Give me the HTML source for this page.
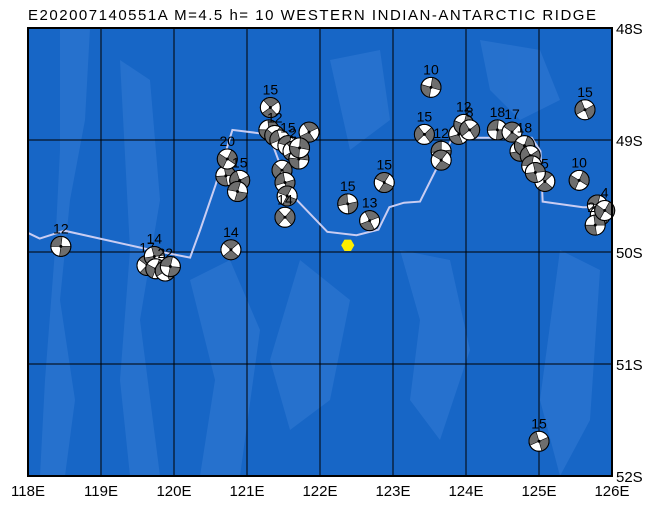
<!DOCTYPE html>
<html><head><meta charset="utf-8"><style>
html,body{margin:0;padding:0;width:646px;height:505px;overflow:hidden;background:#fff;}
svg{display:block;font-family:"Liberation Sans",sans-serif;}
</style></head><body>
<svg id="map" width="646" height="505" viewBox="0 0 646 505">
<text x="28" y="20" font-size="15" fill="#000" textLength="568">E202007140551A M=4.5 h= 10 WESTERN INDIAN-ANTARCTIC RIDGE</text>
<g id="ocean">
<rect x="28" y="28" width="584" height="448" fill="#1766c6"/>
<g fill="#2a74cf" opacity="0.8">
<path d="M60 28 L90 28 L85 120 L70 200 L60 300 L75 400 L65 476 L40 476 L45 380 L55 250 L60 150Z"/>
<path d="M120 60 L150 80 L160 200 L140 320 L160 476 L130 476 L120 380 L130 250Z"/>
<path d="M190 280 L230 260 L260 330 L240 476 L200 476 L215 380Z"/>
<path d="M300 260 L350 300 L330 400 L290 430 L270 360Z"/>
<path d="M400 250 L450 260 L470 350 L440 440 L410 400 L420 320Z"/>
<path d="M480 40 L540 50 L560 100 L520 120 L490 90Z"/>
<path d="M560 250 L600 270 L590 420 L560 476 L540 400Z"/>
<path d="M330 60 L380 50 L390 120 L350 150Z"/>
</g>
</g>
<g id="grid" stroke="#000" stroke-width="1"></g>
<polyline id="ridge" fill="none" stroke="#c9cdf2" stroke-width="2"/>
<g id="events"></g>
<rect x="28" y="28" width="584" height="448" fill="none" stroke="#000" stroke-width="2"/>
<g id="labels" font-size="15" fill="#000"></g>
</svg>
<script>
const lonTicks=[118,119,120,121,122,123,124,125,126];
const latTicks=[48,49,50,51,52];
const ridgeLon=[118,118.16,118.5,119.67,120.22,120.36,120.57,120.8,121.3,121.6,122.1,122.5,122.8,122.95,123.15,123.37,123.6,123.8,124.05,124.9,125.02,125.05,125.6,126];
const ridgeLat=[49.83,49.88,49.81,49.98,50.05,49.8,49.4,48.91,48.95,49.48,49.82,49.85,49.8,49.6,49.56,49.55,49.25,49.0,48.98,48.98,49.1,49.55,49.6,49.6];
const evLon=[118.45,119.63,119.73,119.75,119.88,119.95,120.78,120.71,120.73,120.9,120.87,121.32,121.3,121.38,121.45,121.56,121.63,121.71,121.48,121.52,121.55,121.85,121.72,121.52,122.38,122.88,122.68,123.52,123.43,123.66,123.66,123.9,123.97,124.05,124.43,124.63,124.74,124.8,124.88,124.9,125.08,124.95,125.55,125.63,125.8,125.84,125.77,125.9,125.0];
const evLat=[49.95,50.12,50.04,50.15,50.17,50.13,49.98,49.32,49.17,49.36,49.46,48.71,48.91,48.96,49.0,49.05,49.1,49.17,49.27,49.38,49.5,48.93,49.07,49.69,49.57,49.38,49.72,48.53,48.95,49.1,49.18,48.95,48.86,48.91,48.91,48.93,49.1,49.05,49.14,49.23,49.37,49.29,49.36,48.73,49.58,49.67,49.76,49.63,51.69];
const evLabel=["12","17","14","","22","","14","","20","15","","15","","12","","15","2","15","","","","","","14","15","15","13","10","15","12","","","12","8","18","17","","18","","","5","","10","15","","","22","4","15"];
const L=28,R=612,T=28,B=476;
const x=lon=>L+(lon-118)*(R-L)/8;
const y=lat=>T+(lat-48)*(B-T)/4;
const ns="http://www.w3.org/2000/svg";
function mk(t,a,p){const e=document.createElementNS(ns,t);for(const k in a)e.setAttribute(k,a[k]);p.appendChild(e);return e;}
const grid=document.getElementById('grid'),labels=document.getElementById('labels');
lonTicks.forEach(v=>{
 const l=mk('line',{x1:x(v),x2:x(v),y1:T,y2:B},grid);
 
 
 const t=mk('text',{x:x(v),y:496,'text-anchor':'middle'},labels);t.textContent=v+'E';
 
 
});
latTicks.forEach(v=>{
 const l=mk('line',{x1:L,x2:R,y1:y(v),y2:y(v)},grid);
 
 
 const t=mk('text',{x:616,y:y(v)+6},labels);t.textContent=v+'S';
 
 
});
document.getElementById('ridge').setAttribute('points',ridgeLon.map((v,i)=>x(v)+','+y(ridgeLat[i])).join(' '));
const ev=document.getElementById('events');
evLon.forEach((v,i)=>{
 const cx=x(v),cy=y(evLat[i]),r=10;
 const g=mk('g',{},ev);
 
 
 mk('circle',{cx:cx,cy:cy,r:r,fill:'#fff',stroke:'#000','stroke-width':1},g);
 const a=(i*37)%180*Math.PI/180;
 const p=(ang)=>[cx+r*Math.cos(ang),cy+r*Math.sin(ang)];
 const a1=p(a),a2=p(a+1.7),b1=p(a+Math.PI),b2=p(a+Math.PI+1.7);
 mk('path',{d:`M${cx} ${cy} L${a1} A${r} ${r} 0 0 1 ${a2}Z M${cx} ${cy} L${b1} A${r} ${r} 0 0 1 ${b2}Z`,fill:'#6e6e6e',stroke:'#000','stroke-width':0.6},g);
 mk('circle',{cx:cx,cy:cy,r:r,fill:'none',stroke:'#000','stroke-width':1},g);
 mk('circle',{cx:cx,cy:cy,r:1.5,fill:'#000'},g);
 if(evLabel[i]){const t=mk('text',{x:cx,y:cy-13,'text-anchor':'middle','font-size':14,fill:'#000'},g);t.textContent=evLabel[i];}
});
const star=mk('polygon',{points:[0,1,2,3,4,5].map(k=>{const a=k*Math.PI/3;return (x(122.38)+6*Math.cos(a))+','+(y(49.94)+6*Math.sin(a));}).join(' '),fill:'#ffee00',stroke:'#ffee00'},ev);


</script>
</body></html>
